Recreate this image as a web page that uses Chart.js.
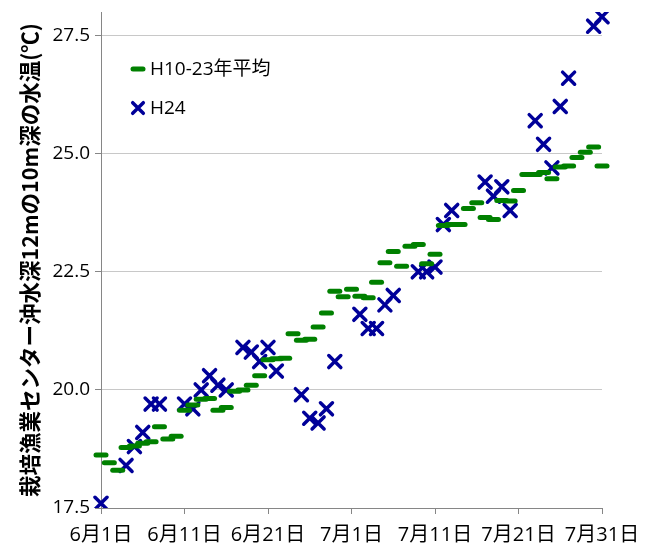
<!DOCTYPE html>
<html>
<head>
<meta charset="utf-8">
<script src="https://cdn.jsdelivr.net/npm/chart.js@4.4.1/dist/chart.umd.min.js"></script>
<style>
  html, body { margin: 0; padding: 0; background: #ffffff; }
  #wrap { width: 649px; height: 548px; }
</style>
</head>
<body>
<div id="wrap"><canvas id="chart" width="649" height="548"></canvas></div>
<script>
// Daily dates, June 1 – July 31
const dates = [
  '6月1日','6月2日','6月3日','6月4日','6月5日','6月6日','6月7日','6月8日','6月9日','6月10日',
  '6月11日','6月12日','6月13日','6月14日','6月15日','6月16日','6月17日','6月18日','6月19日','6月20日',
  '6月21日','6月22日','6月23日','6月24日','6月25日','6月26日','6月27日','6月28日','6月29日','6月30日',
  '7月1日','7月2日','7月3日','7月4日','7月5日','7月6日','7月7日','7月8日','7月9日','7月10日',
  '7月11日','7月12日','7月13日','7月14日','7月15日','7月16日','7月17日','7月18日','7月19日','7月20日',
  '7月21日','7月22日','7月23日','7月24日','7月25日','7月26日','7月27日','7月28日','7月29日','7月30日',
  '7月31日'
];

// Dates that carry a label on the x axis
const tickLabels = ['6月1日','6月11日','6月21日','7月1日','7月11日','7月21日','7月31日'];

// Y axis ticks (°C)
const yTicks = [17.5, 20.0, 22.5, 25.0, 27.5];

// H10-23 average water temperature per day (°C)
const avgH10to23 = [
  18.62, 18.46, 18.30, 18.78, 18.81, 18.87, 18.90, 19.22, 18.96, 19.02,
  19.57, 19.68, 19.80, 19.82, 19.57, 19.63, 19.97, 20.00, 20.10, 20.30,
  20.64, 20.66, 20.67, 21.19, 21.05, 21.07, 21.33, 21.63, 22.09, 21.97,
  22.13, 21.98, 21.95, 22.28, 22.69, 22.93, 22.62, 23.04, 23.08, 22.67,
  22.87, 23.48, 23.50, 23.50, 23.84, 23.96, 23.65, 23.61, 24.01, 24.00,
  24.22, 24.56, 24.56, 24.60, 24.47, 24.72, 24.74, 24.92, 25.03, 25.14,
  24.74
];

// H24 observed water temperature per day (°C), null = no observation
const obsH24 = [
  17.6, null, null, 18.4, 18.8, 19.1, 19.7, 19.7, null, null,
  19.7, 19.6, 20.0, 20.3, 20.1, 20.0, null, 20.9, 20.8, 20.6,
  20.9, 20.4, null, null, 19.9, 19.4, 19.3, 19.6, 20.6, null,
  null, 21.6, 21.3, 21.3, 21.8, 22.0, null, null, 22.5, 22.5,
  22.6, 23.5, 23.8, null, null, null, 24.4, 24.1, 24.3, 23.8,
  null, null, 25.7, 25.2, 24.7, 26.0, 26.6, null, null, 27.7,
  27.9
];

const LATIN = '"Open Sans", "Noto Sans CJK JP", sans-serif';
const TITLE_FONT = '"Noto Sans CJK JP", sans-serif';

// Rounded ends for the dash and cross markers
const roundCaps = {
  id: 'roundCaps',
  beforeDatasetsDraw(chart) { chart.ctx.lineCap = 'round'; },
  afterDatasetsDraw(chart) { chart.ctx.lineCap = 'butt'; }
};

// Legend drawn inside the plot area, top-left
const insideLegend = {
  id: 'insideLegend',
  afterDraw(chart) {
    const { ctx, chartArea } = chart;
    ctx.save();
    ctx.lineCap = 'round';
    ctx.font = '19px ' + LATIN;
    ctx.textBaseline = 'middle';
    ctx.textAlign = 'left';
    chart.data.datasets.forEach((ds, i) => {
      const y = chartArea.top + 57 + i * 39;
      const x = chartArea.left + 37;
      ctx.strokeStyle = ds.borderColor;
      ctx.fillStyle = ds.borderColor;
      ctx.lineWidth = ds.pointBorderWidth;
      Chart.helpers.drawPoint(ctx, {
        pointStyle: ds.pointStyle,
        radius: ds.legendRadius,
        rotation: 0,
        borderWidth: ds.pointBorderWidth
      }, x, y);
      ctx.fillStyle = '#000000';
      ctx.fillText(ds.label, chartArea.left + 49, y + 1);
    });
    ctx.restore();
  }
};

new Chart(document.getElementById('chart'), {
  type: 'line',
  data: {
    labels: dates,
    datasets: [
      {
        label: 'H10-23年平均',
        data: avgH10to23,
        showLine: false,
        pointStyle: 'line',
        pointRadius: 5,
        pointHoverRadius: 5,
        legendRadius: 5,
        pointBorderWidth: 5,
        borderColor: '#008000',
        backgroundColor: '#008000'
      },
      {
        label: 'H24',
        data: obsH24,
        showLine: false,
        pointStyle: 'crossRot',
        pointRadius: 8.5,
        pointHoverRadius: 8.5,
        legendRadius: 7.5,
        pointBorderWidth: 3.5,
        borderColor: '#000099',
        backgroundColor: '#000099'
      }
    ]
  },
  options: {
    responsive: false,
    animation: false,
    events: [],
    layout: { padding: { top: 12, right: 47, left: 0, bottom: 0 } },
    plugins: {
      legend: { display: false },
      tooltip: { enabled: false }
    },
    scales: {
      x: {
        type: 'category',
        offset: false,
        grid: { drawOnChartArea: false, tickLength: 6, color: '#868686', tickColor: '#868686' },
        border: { color: '#868686' },
        ticks: {
          autoSkip: false,
          maxRotation: 0,
          padding: 9,
          color: '#000000',
          font: { family: LATIN, size: 20 }
        },
        afterBuildTicks(scale) {
          scale.ticks = scale.ticks.filter(t => tickLabels.includes(dates[t.value]));
        },
        afterFit(scale) {
          scale.height = 40;
          scale.paddingLeft = 0;
          scale.paddingRight = 0;
        }
      },
      y: {
        min: 17.5,
        max: 28,
        grid: { color: '#C8C8C8', tickLength: 6, tickColor: '#868686' },
        border: { color: '#868686' },
        ticks: {
          padding: 5,
          color: '#000000',
          font: { family: LATIN, size: 19 },
          callback: v => Number(v).toFixed(1)
        },
        afterBuildTicks(scale) {
          scale.ticks = yTicks.map(v => ({ value: v }));
        },
        title: {
          display: true,
          text: '栽培漁業センター沖水深12mの10m深の水温(℃)',
          color: '#000000',
          padding: { top: 17, bottom: 0 },
          font: { family: TITLE_FONT, size: 21.5, weight: 'bold' }
        },
        afterFit(scale) {
          scale.width = 101;
          scale.paddingTop = 0;
          scale.paddingBottom = 0;
        }
      }
    }
  },
  plugins: [roundCaps, insideLegend]
});
</script>
</body>
</html>
